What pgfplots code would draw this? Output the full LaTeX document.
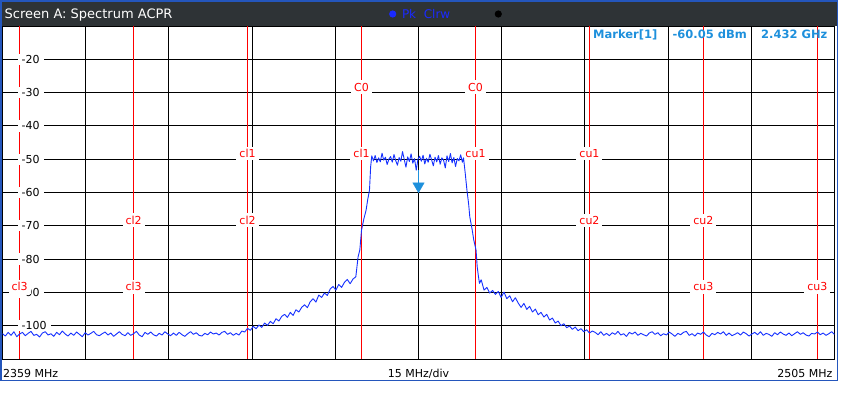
\documentclass[border=0pt]{standalone}
\usepackage{pgfplots}
\pgfplotsset{compat=1.18}
\usepackage{pgfplotstable}
\usepackage{fontspec}
\setmainfont{DejaVu Sans}
\definecolor{framebl}{HTML}{2456BC}
\definecolor{titlebg}{HTML}{2E3336}
\definecolor{tracebl}{HTML}{1530FF}
\definecolor{mkblue}{HTML}{1E90DC}
\definecolor{chred}{HTML}{FF0000}
\definecolor{legblue}{HTML}{1A2AFF}
\tikzset{
  ytl/.style={fill=white, anchor=west, inner xsep=4pt, inner ysep=1.5pt, xshift=15pt, font=\fontsize{11}{12}\selectfont},
  chl/.style={fill=white, text=chred, anchor=base, inner xsep=3pt, inner ysep=2.5pt, yshift=1.5pt, font=\fontsize{11}{12}\selectfont},
}

\pgfplotstableread{
f p
2359.0 -102.4
2359.5 -103.1
2360.0 -102.0
2360.5 -102.9
2361.0 -101.8
2361.5 -103.3
2362.0 -102.5
2362.5 -102.0
2363.0 -103.0
2363.5 -102.3
2364.0 -101.7
2364.5 -102.9
2365.0 -102.6
2365.5 -103.4
2366.0 -102.2
2366.5 -101.8
2367.0 -102.8
2367.5 -102.4
2368.0 -103.2
2368.5 -102.0
2369.0 -102.7
2369.5 -101.6
2370.0 -102.5
2370.5 -103.1
2371.0 -102.2
2371.5 -102.9
2372.0 -101.9
2372.5 -102.6
2373.0 -103.3
2373.5 -102.1
2374.0 -102.8
2374.5 -102.3
2375.0 -101.7
2375.5 -102.7
2376.0 -103.0
2376.5 -102.4
2377.0 -101.9
2377.5 -102.8
2378.0 -102.2
2378.5 -103.2
2379.0 -102.5
2379.5 -101.8
2380.0 -102.6
2380.5 -103.0
2381.0 -102.1
2381.5 -102.9
2382.0 -102.4
2382.5 -101.7
2383.0 -102.8
2383.5 -103.3
2384.0 -102.0
2384.5 -102.6
2385.0 -101.9
2385.5 -102.7
2386.0 -103.1
2386.5 -102.3
2387.0 -102.8
2387.5 -101.8
2388.0 -102.5
2388.5 -103.0
2389.0 -102.2
2389.5 -102.9
2390.0 -102.0
2390.5 -102.7
2391.0 -103.2
2391.5 -102.4
2392.0 -101.8
2392.5 -102.6
2393.0 -102.1
2393.5 -102.9
2394.0 -103.1
2394.5 -102.3
2395.0 -102.7
2395.5 -101.9
2396.0 -102.5
2396.5 -102.2
2397.0 -102.8
2397.5 -102.0
2398.0 -101.7
2398.5 -102.6
2399.0 -102.1
2399.5 -102.9
2400.0 -102.3
2400.5 -102.8
2401.0 -101.6
2401.5 -101.9
2402.0 -100.8
2402.5 -101.4
2403.0 -100.2
2403.5 -100.9
2404.0 -99.8
2404.5 -100.5
2405.0 -99.2
2405.5 -99.9
2406.0 -98.7
2406.5 -99.4
2407.0 -97.9
2407.5 -98.6
2408.0 -97.2
2408.5 -96.6
2409.0 -97.5
2409.5 -96.0
2410.0 -96.9
2410.5 -95.2
2411.0 -95.9
2411.5 -94.5
2412.0 -93.7
2412.5 -94.6
2413.0 -92.8
2413.5 -91.9
2414.0 -92.9
2414.5 -90.8
2415.0 -91.5
2415.5 -90.2
2416.0 -90.9
2416.5 -89.0
2417.0 -88.2
2417.5 -89.3
2418.0 -87.6
2418.5 -88.5
2419.0 -87.0
2419.5 -86.1
2420.0 -87.4
2420.5 -86.0
2421.0 -85.3
2421.2 -82.3
2421.4 -79.3
2421.7 -77.3
2422.0 -71.3
2422.4 -68.0
2422.8 -65.3
2423.1 -62.0
2423.4 -59.3
2423.6 -52.3
2423.8 -49.0
2424.1 -50.5
2424.4 -48.9
2424.7 -51.0
2425.0 -49.6
2425.3 -50.8
2425.6 -48.2
2425.9 -50.3
2426.2 -49.4
2426.5 -51.6
2426.8 -50.0
2427.1 -49.2
2427.4 -50.9
2427.7 -48.6
2428.0 -50.4
2428.3 -51.8
2428.6 -49.5
2428.9 -50.6
2429.2 -47.7
2429.5 -50.1
2429.8 -52.4
2430.1 -49.3
2430.4 -50.7
2430.7 -48.4
2431.0 -51.2
2431.3 -49.8
2431.6 -53.3
2431.9 -50.0
2432.2 -49.1
2432.5 -50.6
2432.8 -48.8
2433.1 -51.4
2433.4 -49.7
2433.7 -50.9
2434.0 -48.5
2434.3 -50.2
2434.6 -52.0
2434.9 -49.4
2435.2 -50.8
2435.5 -48.9
2435.8 -51.5
2436.1 -49.6
2436.4 -50.3
2436.7 -52.6
2437.0 -49.0
2437.3 -50.7
2437.6 -48.3
2437.9 -51.1
2438.2 -49.5
2438.5 -52.2
2438.8 -49.8
2439.1 -50.5
2439.4 -48.7
2439.7 -50.9
2439.9 -49.6
2440.2 -54.2
2440.5 -59.3
2440.8 -63.5
2441.0 -67.3
2441.4 -71.0
2441.7 -74.3
2442.1 -77.3
2442.3 -82.3
2442.5 -85.0
2442.7 -87.3
2443.0 -86.2
2443.5 -89.3
2444.0 -88.5
2444.5 -90.2
2445.0 -89.4
2445.5 -90.6
2446.0 -89.7
2446.5 -91.5
2447.0 -89.9
2447.5 -91.9
2448.0 -91.0
2448.5 -92.8
2449.0 -91.6
2449.5 -93.2
2450.0 -94.5
2450.5 -93.3
2451.0 -95.1
2451.5 -94.2
2452.0 -95.9
2452.5 -95.0
2453.0 -96.7
2453.5 -96.0
2454.0 -97.4
2454.5 -96.6
2455.0 -98.3
2455.5 -97.7
2456.0 -99.2
2456.5 -98.6
2457.0 -100.0
2457.5 -99.4
2458.0 -100.6
2458.5 -100.1
2459.0 -101.1
2459.5 -100.4
2460.0 -101.5
2460.5 -100.9
2461.0 -101.8
2461.5 -101.2
2462.0 -102.2
2462.5 -101.6
2463.0 -102.0
2463.5 -102.7
2464.0 -101.8
2464.5 -102.9
2465.0 -102.3
2465.5 -103.0
2466.0 -102.1
2466.5 -102.6
2467.0 -101.7
2467.5 -102.8
2468.0 -102.4
2468.5 -103.2
2469.0 -102.0
2469.5 -102.5
2470.0 -101.9
2470.5 -102.9
2471.0 -102.3
2471.5 -102.7
2472.0 -103.1
2472.5 -102.2
2473.0 -101.8
2473.5 -102.6
2474.0 -102.1
2474.5 -103.0
2475.0 -102.4
2475.5 -102.8
2476.0 -101.9
2476.5 -102.5
2477.0 -103.2
2477.5 -102.3
2478.0 -102.7
2478.5 -102.0
2479.0 -101.7
2479.5 -102.9
2480.0 -102.4
2480.5 -103.1
2481.0 -102.2
2481.5 -102.6
2482.0 -101.9
2482.5 -102.8
2483.0 -103.3
2483.5 -102.3
2484.0 -102.7
2484.5 -102.0
2485.0 -102.5
2485.5 -101.8
2486.0 -102.9
2486.5 -102.2
2487.0 -103.0
2487.5 -102.6
2488.0 -102.1
2488.5 -102.8
2489.0 -101.9
2489.5 -102.4
2490.0 -103.1
2490.5 -102.5
2491.0 -102.0
2491.5 -102.7
2492.0 -101.8
2492.5 -102.9
2493.0 -102.3
2493.5 -102.6
2494.0 -103.2
2494.5 -102.1
2495.0 -102.7
2495.5 -101.9
2496.0 -102.5
2496.5 -102.9
2497.0 -102.2
2497.5 -103.0
2498.0 -102.4
2498.5 -101.8
2499.0 -102.6
2499.5 -102.1
2500.0 -102.8
2500.5 -103.1
2501.0 -102.3
2501.5 -102.5
2502.0 -101.9
2502.5 -102.7
2503.0 -102.2
2503.5 -102.9
2504.0 -102.4
2504.5 -101.8
2505.0 -102.6
}\tracedata

\begin{document}
\begin{tikzpicture}
\useasboundingbox (0,0) rectangle (845pt,-407pt);
\fill[white] (0,0) rectangle (845pt,-407pt);
% window frame and title bar
\fill[titlebg] (0,0) rectangle (837pt,-26pt);
\fill[framebl] (0,0) rectangle (838pt,-2.3pt);
\fill[framebl] (0,0) rectangle (2.3pt,-381pt);
\fill[framebl] (0,-379.6pt) rectangle (838pt,-381pt);
\fill[framebl] (836.8pt,-2pt) rectangle (838pt,-381pt);
\node[anchor=base west, inner sep=0pt, text=white, font=\fontsize{13}{15}\selectfont] at (4.5pt,-18.6pt) {Screen A: Spectrum ACPR};
\fill[legblue] (392.7pt,-14pt) circle (3.6pt);
\node[anchor=base west, inner sep=0pt, text=legblue, font=\fontsize{12}{14}\selectfont] at (401.8pt,-18.6pt) {Pk\ \ Clrw};
\fill[black] (498.3pt,-14pt) circle (3.6pt);

\begin{axis}[
  at={(2.5pt,-359pt)}, anchor=south west,
  scale only axis, width=832pt, height=333pt,
  xmin=2359, xmax=2505, ymin=-110, ymax=-10,
  xtick={2373.6,2388.2,2402.8,2417.4,2432,2446.6,2461.2,2475.8,2490.4},
  ytick={-100,-90,-80,-70,-60,-50,-40,-30,-20},
  xticklabels={}, yticklabels={},
  major tick length=0pt,
  grid=major,
  major grid style={black, line width=0.9pt},
  axis line style={black, line width=0.9pt},
]
% channel limit lines
\pgfplotsinvokeforeach{2362,2382,2402,2422,2442,2462,2482,2502}{
  \addplot[chred, line width=0.9pt, forget plot] coordinates {(#1,-110) (#1,-10)};
}
% level labels inside the plot
\node[ytl] at (axis cs:2359,-20) {-20};
\node[ytl] at (axis cs:2359,-30) {-30};
\node[ytl] at (axis cs:2359,-40) {-40};
\node[ytl] at (axis cs:2359,-50) {-50};
\node[ytl] at (axis cs:2359,-60) {-60};
\node[ytl] at (axis cs:2359,-70) {-70};
\node[ytl] at (axis cs:2359,-80) {-80};
\node[ytl] at (axis cs:2359,-90) {-90};
\node[ytl] at (axis cs:2359,-100) {-100};
% channel labels
\node[chl] at (axis cs:2422,-30) {C0};
\node[chl] at (axis cs:2442,-30) {C0};
\node[chl] at (axis cs:2402,-50) {cl1};
\node[chl] at (axis cs:2422,-50) {cl1};
\node[chl] at (axis cs:2442,-50) {cu1};
\node[chl] at (axis cs:2462,-50) {cu1};
\node[chl] at (axis cs:2382,-70) {cl2};
\node[chl] at (axis cs:2402,-70) {cl2};
\node[chl] at (axis cs:2462,-70) {cu2};
\node[chl] at (axis cs:2482,-70) {cu2};
\node[chl] at (axis cs:2362,-90) {cl3};
\node[chl] at (axis cs:2382,-90) {cl3};
\node[chl] at (axis cs:2482,-90) {cu3};
\node[chl] at (axis cs:2502,-90) {cu3};
% trace
\addplot[tracebl, line width=0.9pt, line join=round] table {\tracedata};
% marker
\addplot[mkblue, line width=1.6pt] coordinates {(2432,-53.3) (2432,-57.2)};
\addplot[only marks, mark=triangle*, mark size=6.6pt, mark options={yshift=6.6pt, rotate=180, fill=mkblue, draw=mkblue, line width=0.4pt}] coordinates {(2432,-60.05)};
\end{axis}

% marker readout
\node[anchor=base west, inner sep=0pt, text=mkblue, font=\bfseries\fontsize{11.5}{13}\selectfont] at (593pt,-38.3pt) {Marker[1]};
\node[anchor=base west, inner sep=0pt, text=mkblue, font=\bfseries\fontsize{11.5}{13}\selectfont] at (672.5pt,-38.3pt) {-60.05 dBm};
\node[anchor=base west, inner sep=0pt, text=mkblue, font=\bfseries\fontsize{11.5}{13}\selectfont] at (761pt,-38.3pt) {2.432 GHz};
% bottom annotations
\node[anchor=base west, inner sep=0pt, font=\fontsize{11}{13}\selectfont] at (3pt,-377.3pt) {2359 MHz};
\node[anchor=base, inner sep=0pt, font=\fontsize{11}{13}\selectfont] at (418.5pt,-377.3pt) {15 MHz/div};
\node[anchor=base east, inner sep=0pt, font=\fontsize{11}{13}\selectfont] at (832.7pt,-377.3pt) {2505 MHz};
\end{tikzpicture}
\end{document}
